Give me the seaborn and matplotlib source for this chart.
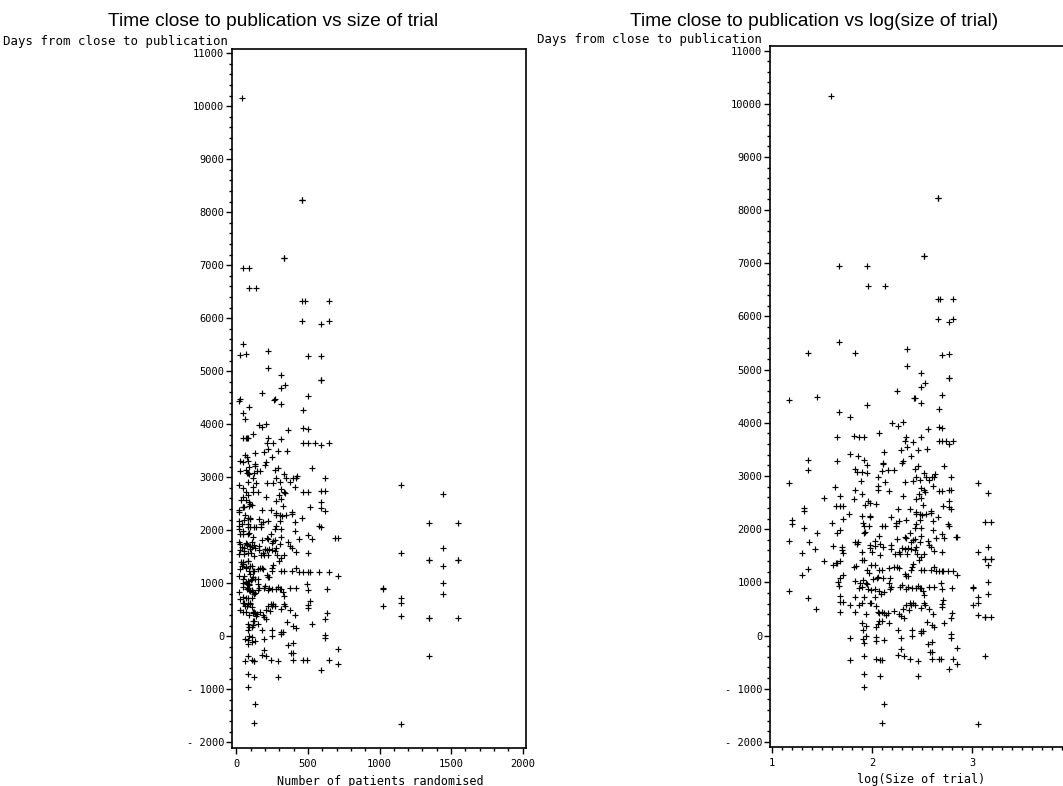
import matplotlib
matplotlib.use("Agg")
import numpy as np
import pandas as pd
import matplotlib.pyplot as plt
import seaborn as sns
from matplotlib.ticker import MultipleLocator, FixedLocator, FuncFormatter

# log10 of the number of patients randomised in each trial
log_trial_size = [
    1.59, 2.66, 2.66, 2.52, 2.52, 1.67, 1.95, 1.96, 2.13, 2.66,
    2.68, 2.81, 2.66, 2.77, 2.81, 1.67, 1.36, 1.83, 2.35, 2.70,
    2.77, 2.35, 2.49, 2.77, 2.77, 2.53, 2.49, 2.25, 2.70, 1.17,
    1.45, 2.42, 2.43, 2.49, 1.95, 2.67, 1.67, 1.78, 2.20, 2.26,
    2.31, 2.56, 2.67, 2.70, 2.07, 1.65, 1.82, 1.87, 1.92, 2.34,
    2.41, 2.49, 2.67, 2.70, 2.74, 2.77, 2.81, 2.33, 2.35, 2.29,
    2.12, 2.46, 2.55, 2.39, 1.78, 1.86, 1.92, 1.95, 1.36, 1.65,
    2.31, 2.30, 2.11, 2.11, 2.72, 2.43, 2.46, 1.36, 1.83, 1.85,
    1.90, 1.95, 2.10, 2.06, 2.16, 2.22, 1.17, 1.89, 2.33, 2.41,
    2.44, 2.48, 2.52, 2.54, 2.57, 2.60, 2.63, 2.62, 2.79, 2.06,
    2.13, 2.06, 2.17, 2.49, 2.53, 2.52, 1.63, 1.83, 1.90, 2.31,
    2.61, 2.67, 2.70, 2.77, 2.79, 1.52, 1.68, 1.82, 2.44, 2.49,
    2.47, 2.77, 1.98, 1.93, 2.04, 1.96, 1.64, 1.68, 1.71, 2.51,
    2.71, 2.77, 2.79, 1.32, 1.32, 2.26, 2.38, 2.59, 2.59, 2.54,
    2.44, 2.44, 2.48, 2.50, 2.66, 1.77, 1.90, 1.98, 1.98, 1.71,
    2.34, 2.27, 2.24, 2.19, 2.48, 1.20, 1.20, 2.61, 2.76, 2.77,
    1.60, 1.91, 1.92, 1.97, 2.10, 2.13, 2.24, 2.43, 2.44, 2.49,
    1.68, 1.32, 2.61, 1.45, 1.65, 1.92, 1.93, 2.07, 2.03, 2.38,
    2.49, 2.84, 2.85, 2.70, 2.72, 1.17, 1.83, 1.85, 1.86, 1.98,
    2.08, 2.11, 2.03, 1.98, 2.25, 2.19, 2.33, 2.34, 2.39, 2.41,
    2.43, 2.48, 2.43, 2.30, 2.33, 2.36, 2.39, 2.44, 2.56, 2.57,
    2.64, 2.59, 1.37, 1.61, 1.70, 1.70, 1.71, 1.30, 1.43, 1.90,
    2.00, 2.08, 2.19, 2.23, 2.27, 2.28, 2.35, 2.52, 2.49, 2.45,
    2.47, 2.62, 2.70, 1.52, 1.61, 1.64, 1.65, 1.68, 1.82, 1.84,
    1.90, 1.92, 1.95, 1.99, 2.03, 1.97, 2.07, 2.10, 2.17, 2.18,
    2.22, 2.25, 2.27, 2.33, 2.34, 2.36, 2.39, 2.40, 2.41, 2.49,
    2.52, 2.59, 2.62, 2.64, 2.67, 2.70, 2.71, 2.76, 2.81, 2.85,
    1.36, 1.30, 1.68, 1.71, 1.66, 1.67, 1.83, 1.88, 1.91, 1.94,
    1.95, 2.01, 2.05, 2.06, 2.11, 2.17, 1.90, 1.87, 1.96, 1.99,
    2.03, 2.12, 2.07, 2.09, 2.18, 2.19, 2.28, 2.30, 2.34, 2.36,
    2.40, 2.44, 2.48, 2.46, 2.49, 2.51, 2.57, 2.52, 2.62, 2.69,
    2.70, 2.80, 1.17, 1.36, 1.68, 1.71, 1.68, 1.78, 1.83, 1.87,
    1.90, 1.92, 1.98, 1.99, 2.03, 1.83, 1.94, 2.04, 2.06, 2.07,
    2.10, 2.12, 2.14, 2.16, 2.22, 2.27, 2.29, 2.32, 2.31, 2.34,
    2.38, 2.39, 2.37, 2.41, 2.43, 2.49, 2.52, 2.53, 2.57, 2.61,
    2.70, 2.70, 2.71, 2.72, 2.80, 2.79, 1.44, 1.68, 1.90, 1.91,
    1.94, 2.04, 2.06, 2.07, 2.10, 2.17, 2.55, 2.60, 2.62, 2.26,
    2.40, 2.49, 2.51, 1.78, 1.91, 1.92, 1.94, 2.04, 2.04, 2.12,
    2.29, 2.40, 2.49, 2.79, 2.79, 2.56, 2.60, 2.58, 2.60, 2.85,
    2.29, 2.26, 2.32, 1.92, 1.78, 2.04, 2.08, 2.10, 2.38, 2.46,
    2.60, 2.67, 2.69, 2.81, 2.85, 2.77, 1.92, 2.08, 2.46, 1.92,
    2.12, 2.10, 3.06, 3.16, 3.13, 3.19, 3.06, 3.16, 3.13, 3.13,
    3.19, 3.19, 3.16, 3.01, 3.01, 3.06, 3.16, 3.16, 3.01, 3.06,
    3.06, 3.13, 3.13, 3.19, 3.13, 3.06,
]

# Days from trial close to publication, same order as log_trial_size
days_to_publication = [
    10150, 8230, 8230, 7140, 7140, 6940, 6940, 6580, 6580, 6320,
    6320, 6320, 5950, 5900, 5950, 5520, 5310, 5320, 5390, 5280,
    5290, 5060, 4930, 4840, 4840, 4740, 4680, 4590, 4530, 4430,
    4480, 4460, 4470, 4380, 4330, 4260, 4210, 4100, 3990, 3940,
    4010, 3890, 3930, 3910, 3810, 3740, 3750, 3740, 3740, 3740,
    3640, 3730, 3650, 3650, 3650, 3610, 3650, 3650, 3540, 3480,
    3460, 3490, 3500, 3380, 3420, 3380, 3310, 3200, 3310, 3280,
    3290, 3240, 3250, 3220, 3180, 3140, 3180, 3110, 3130, 3080,
    3080, 3060, 3090, 2980, 3110, 3110, 2860, 2910, 2890, 2900,
    2980, 2920, 3060, 2980, 2920, 2980, 3030, 2980, 2980, 2810,
    2890, 2730, 2720, 2780, 2700, 2730, 2790, 2730, 2670, 2620,
    2810, 2720, 2720, 2740, 2740, 2580, 2620, 2570, 2560, 2590,
    2670, 2530, 2500, 2450, 2480, 2530, 2430, 2430, 2430, 2450,
    2430, 2420, 2370, 2390, 2340, 2380, 2380, 2340, 2310, 2290,
    2330, 2290, 2290, 2260, 2230, 2290, 2240, 2240, 2220, 2190,
    2170, 2160, 2120, 2220, 2180, 2180, 2090, 2160, 2090, 2060,
    2110, 2120, 2060, 2060, 2060, 2060, 2060, 2030, 2090, 2030,
    1990, 2030, 1980, 1930, 1930, 1930, 1940, 1880, 1780, 1930,
    1880, 1860, 1860, 1910, 1840, 1780, 1760, 1730, 1750, 1710,
    1720, 1670, 1680, 1640, 1810, 1710, 1850, 1830, 1760, 1790,
    1820, 1750, 1610, 1640, 1620, 1640, 1630, 1660, 1770, 1710,
    1840, 1660, 1750, 1680, 1660, 1610, 1560, 1560, 1630, 1580,
    1580, 1520, 1620, 1540, 1580, 1530, 1540, 1540, 1480, 1530,
    1420, 1590, 1580, 1400, 1320, 1360, 1370, 1400, 1290, 1310,
    1420, 1420, 1240, 1330, 1330, 1180, 1230, 1240, 1270, 1090,
    1280, 1290, 1270, 1150, 1120, 1120, 1230, 1290, 1340, 1240,
    1240, 1230, 1280, 1220, 1220, 1210, 1210, 1220, 1210, 1130,
    1260, 1140, 1090, 1140, 1010, 930, 1020, 990, 1040, 990,
    970, 1070, 1080, 1110, 1090, 980, 920, 890, 870, 860,
    870, 820, 830, 790, 870, 920, 920, 950, 870, 920,
    890, 890, 890, 930, 890, 840, 920, 760, 920, 980,
    870, 890, 830, 700, 740, 630, 630, 580, 720, 580,
    610, 720, 620, 610, 720, 450, 410, 560, 450, 430,
    450, 430, 390, 420, 460, 410, 360, 330, 490, 570,
    610, 580, 480, 610, 580, 510, 610, 580, 490, 410,
    530, 590, 660, 230, 430, 330, 500, 450, 230, 110,
    180, 170, 210, 280, 280, 240, 260, 200, 160, 110,
    110, 80, 90, -50, -70, -140, 0, -20, -110, -90,
    -50, 0, 40, 20, -40, -160, -130, -310, -310, -240,
    -260, -360, -380, -380, -460, -440, -460, -460, -440, -470,
    -440, -440, -440, -440, -530, -630, -720, -760, -760, -960,
    -1280, -1640, 2860, 2680, 2130, 2130, 1580, 1660, 1440, 1440,
    1440, 1440, 1330, 920, 890, 730, 790, 1000, 580, 620,
    390, 340, 340, 340, -380, -1660,
]

left_title = "Time close to publication vs size of trial"
right_title = "Time close to publication vs log(size of trial)"
y_title = "Days from close to publication"
left_x_title = "Number of patients randomised"
right_x_title = "log(Size of trial)"

trials = pd.DataFrame({"log_size": log_trial_size, "days": days_to_publication})
trials["patients"] = 10 ** trials["log_size"]

sns.set_theme(style="ticks")
plt.rcParams["font.family"] = ["DejaVu Sans Mono"]
plt.rcParams.update({
    "axes.edgecolor": "black",
    "axes.linewidth": 1.2,
    "xtick.color": "black",
    "ytick.color": "black",
    "text.color": "black",
})

W, H = 1063, 786
fig = plt.figure(figsize=(W / 100, H / 100), dpi=100)
fig.patch.set_facecolor("white")


def frac_box(x0, x1, ytop, ybot):
    return [x0 / W, 1 - ybot / H, (x1 - x0) / W, (ybot - ytop) / H]


ax_l = fig.add_axes(frac_box(232, 526, 49.3, 748))
ax_r = fig.add_axes(frac_box(770, 1072, 46, 746.7))


def day_fmt(v, pos):
    v = int(round(v))
    return f"- {abs(v)}" if v < 0 else f"{v}"


point_style = dict(marker="+", color="black", s=24, linewidth=0.85, legend=False)

sns.scatterplot(data=trials, x="patients", y="days", ax=ax_l, **point_style)
sns.scatterplot(data=trials, x="log_size", y="days", ax=ax_r, **point_style)

ax_l.set_xlim(-31, 2024)
ax_l.set_ylim(-2108, 11075)
ax_l.xaxis.set_major_locator(MultipleLocator(500))
ax_l.xaxis.set_minor_locator(MultipleLocator(100))

ax_r.set_xlim(0.98, 4.0)
ax_r.set_ylim(-2090, 11085)
ax_r.xaxis.set_major_locator(FixedLocator([1, 2, 3]))
ax_r.xaxis.set_minor_locator(MultipleLocator(0.1))
ax_r.xaxis.set_major_formatter(FuncFormatter(lambda v, p: f"{v:g}"))

for ax in (ax_l, ax_r):
    ax.set_xlabel("")
    ax.set_ylabel("")
    ax.yaxis.set_major_locator(MultipleLocator(1000))
    ax.yaxis.set_minor_locator(MultipleLocator(200))
    ax.yaxis.set_major_formatter(FuncFormatter(day_fmt))
    ax.tick_params(axis="both", which="major", direction="out", length=4,
                   width=1.0, labelsize=7.5, color="black")
    ax.tick_params(axis="both", which="minor", direction="out", length=2,
                   width=1.0, color="black")
    ax.tick_params(axis="y", which="major", pad=1.5)
    ax.tick_params(axis="x", which="major", pad=4)
    for side in ("top", "right", "left", "bottom"):
        ax.spines[side].set_visible(True)
        ax.spines[side].set_color("black")
        ax.spines[side].set_linewidth(1.2)
    ax.set_facecolor("white")

title_font = dict(family=["Liberation Sans", "DejaVu Sans"], fontsize=13.8)
fig.text(273 / W, 1 - 26 / H, left_title, ha="center", va="baseline", **title_font)
fig.text(814 / W, 1 - 26 / H, right_title, ha="center", va="baseline", **title_font)

fig.text(228 / W, 1 - 42 / H, y_title, ha="right", va="center", fontsize=8.9)
fig.text(762 / W, 1 - 39 / H, y_title, ha="right", va="center", fontsize=8.9)

fig.text(380 / W, 1 - 781 / H, left_x_title, ha="center", va="center", fontsize=8.5)
fig.text(921.5 / W, 1 - 780 / H, right_x_title, ha="center", va="center", fontsize=8.5)

fig.savefig("out.png", dpi=100, facecolor="white")
